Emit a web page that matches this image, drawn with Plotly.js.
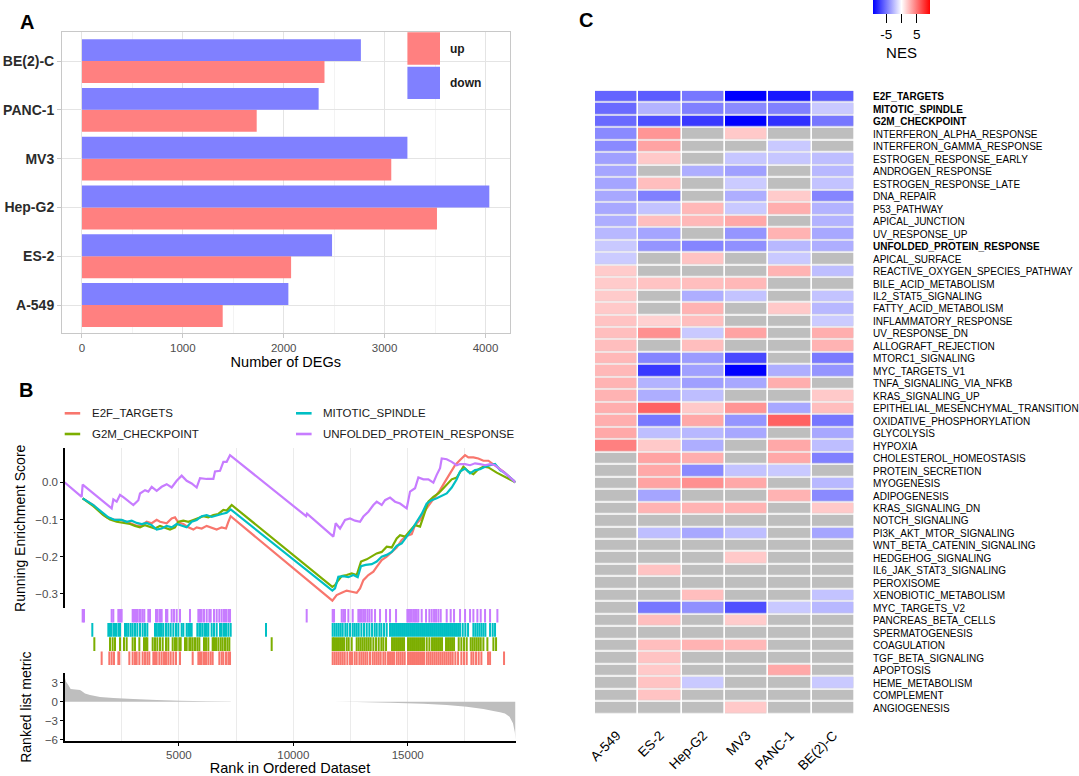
<!DOCTYPE html>
<html><head><meta charset="utf-8">
<script src="https://cdn.plot.ly/plotly-3.0.1.min.js"></script>
<style>html,body{margin:0;padding:0;background:#fff;} #chart{width:1079px;height:776px;}</style>
</head><body><div id="chart"></div>
<script>
// ---------- Panel A data ----------
const cellLines = ['A-549','ES-2','Hep-G2','MV3','PANC-1','BE(2)-C'];
const degUp   = [1395, 2073, 3519, 3066, 1732, 2404];
const degDown = [2046, 2479, 4038, 3226, 2346, 2765];

// ---------- Panel B data ----------
const geneSets = ['E2F_TARGETS','G2M_CHECKPOINT','MITOTIC_SPINDLE','UNFOLDED_PROTEIN_RESPONSE'];
const setColors = ['#F8766D','#7CAE00','#00BFC4','#C77CFF'];
const rankTicks = [5000, 10000, 15000];
const rankTickText = ['5000', '10000', '15000'];

const e2fRank = [794,1260,1552,1844,2135,2426,2717,2936,3154,3373,3591,3810,4029,4174,4466,4684,4830,4976,5194,5413,5631,5777,5996,6214,6433,6651,6870,7059,7161,7263,11707,11896,12115,12334,12552,12771,12917,13062,13281,13499,13645,13864,14082,14301,14519,14738,14956,15175,15320,15539,15757,15976,16194,16413,16632,16850,17069,17287,17506,17651,17870,18088,18307,18526,18744,18963,19181,19711];
const e2fES = [-0.043,-0.061,-0.079,-0.094,-0.100,-0.101,-0.106,-0.112,-0.117,-0.115,-0.106,-0.110,-0.101,-0.106,-0.110,-0.097,-0.094,-0.108,-0.112,-0.121,-0.127,-0.121,-0.124,-0.117,-0.121,-0.127,-0.121,-0.124,-0.106,-0.091,-0.318,-0.303,-0.297,-0.291,-0.294,-0.297,-0.285,-0.263,-0.249,-0.240,-0.227,-0.209,-0.200,-0.187,-0.175,-0.155,-0.144,-0.139,-0.115,-0.101,-0.076,-0.057,-0.039,-0.021,0.002,0.024,0.046,0.060,0.073,0.067,0.067,0.064,0.058,0.058,0.049,0.040,0.029,0.000];

const g2mRank = [794,1260,1698,1990,2280,2572,2863,3082,3300,3519,3737,3956,4174,4393,4611,4830,4976,5194,5413,5631,5850,6068,6287,6506,6724,6943,7088,7234,7307,11707,11824,11969,12115,12334,12552,12771,12960,13208,13427,13645,13864,14082,14301,14519,14665,14883,15102,15320,15539,15757,15903,16122,16340,16559,16777,16923,17142,17287,17433,17651,17870,18088,18307,18526,18744,18890,19711];
const g2mES = [-0.043,-0.064,-0.088,-0.100,-0.106,-0.109,-0.112,-0.117,-0.121,-0.115,-0.119,-0.124,-0.117,-0.121,-0.127,-0.121,-0.106,-0.103,-0.106,-0.101,-0.097,-0.091,-0.094,-0.088,-0.085,-0.074,-0.076,-0.064,-0.061,-0.281,-0.276,-0.263,-0.252,-0.249,-0.245,-0.249,-0.213,-0.207,-0.200,-0.191,-0.187,-0.173,-0.175,-0.151,-0.142,-0.146,-0.130,-0.115,-0.119,-0.079,-0.052,-0.039,-0.030,-0.016,-0.001,0.008,0.013,0.029,0.042,0.029,0.022,0.035,0.042,0.040,0.031,0.026,0.000];

const mitRank = [794,1260,1552,1917,2207,2499,2717,2936,3154,3373,3591,3810,4029,4247,4466,4684,4903,5121,5340,5558,5777,5996,6214,6433,6651,6870,7088,7263,11707,11824,11969,12188,12407,12625,12815,12960,13164,13427,13645,13864,14082,14301,14519,14738,14956,15175,15393,15612,15830,16049,16267,16486,16704,16923,17142,17287,17506,17724,17943,18161,18380,18599,18817,19036,19225,19711];
const mitES = [-0.043,-0.061,-0.076,-0.094,-0.101,-0.101,-0.106,-0.103,-0.109,-0.112,-0.109,-0.115,-0.127,-0.124,-0.117,-0.121,-0.112,-0.117,-0.121,-0.106,-0.101,-0.091,-0.088,-0.093,-0.088,-0.085,-0.082,-0.073,-0.291,-0.285,-0.254,-0.252,-0.255,-0.249,-0.255,-0.225,-0.222,-0.220,-0.213,-0.200,-0.195,-0.187,-0.171,-0.164,-0.146,-0.128,-0.106,-0.085,-0.057,-0.048,-0.043,-0.037,-0.030,-0.014,0.008,0.029,0.037,0.024,0.033,0.035,0.042,0.046,0.049,0.033,0.026,0.000];

const uprRank = [0,750,794,2062,2135,2280,2426,2572,3009,3227,3300,3519,3664,3810,4029,4247,4466,4684,4903,5121,5340,5558,5777,5923,6214,6506,6578,6797,6943,7088,7234,10560,10600,11751,11853,12042,12261,12479,12698,12917,13062,13281,13499,13645,13864,14009,14228,14446,14665,14956,15102,15320,15466,15684,15903,16122,16267,16413,16486,16704,16923,17142,17287,17506,17724,17943,18161,18380,18599,18817,19036,19225,19711];
const uprES = [0,-0.039,-0.006,-0.070,-0.046,-0.052,-0.034,-0.040,-0.061,-0.048,-0.030,-0.021,-0.025,-0.012,-0.023,-0.012,-0.005,-0.014,0.004,0.018,0.004,-0.003,-0.014,0.011,0.009,0.009,0.029,0.031,0.055,0.055,0.073,-0.091,-0.084,-0.146,-0.110,-0.124,-0.101,-0.097,-0.103,-0.106,-0.092,-0.079,-0.061,-0.052,-0.061,-0.048,-0.041,-0.052,-0.057,-0.070,-0.025,-0.016,0.013,0.008,0.008,-0.001,0.020,0.038,0.064,0.062,0.055,0.046,0.049,0.049,0.046,0.051,0.049,0.046,0.049,0.046,0.035,0.026,0.000];

// gene-set hit positions (rank)
const e2fHits = [1624,1959,2061,2163,2353,2396,2834,2979,3081,3154,3271,3416,3518,3620,3708,3883,3955,4028,4145,4247,4349,4436,4538,4640,4757,4873,5048,5602,5850,5922,5995,6097,6185,6287,6389,6476,6767,6870,6942,7059,7161,7234,
 11721,11809,11896,11984,12071,12158,12246,12362,12479,12566,12683,12770,12887,12975,13062,13150,13237,13353,13470,13557,13645,13732,13819,13936,14023,14140,14227,14315,14402,14519,14606,14694,14781,14868,15014,15102,15189,15276,15364,15451,15539,15626,15713,15830,15917,16005,16092,16180,16267,16355,16442,16529,16617,16704,16792,16879,16966,17083,17200,17345,17462,17579,17783,17870,17987,18103,18220,18511,18599,19210];
const g2mHits = [1304,1989,2105,2207,2426,2600,2717,2979,3081,3271,3475,3562,3620,3854,3955,4057,4174,4291,4436,4538,4728,4830,4903,5019,5077,5267,5340,5456,5514,5602,5704,5806,5893,6097,6185,6287,6476,6534,6622,6724,6826,6913,7015,7117,7205,9055,
 11721,11780,11867,11954,12042,12129,12217,12333,12421,12552,12770,12858,12945,13033,13120,13208,13295,13382,13499,13615,13732,13849,13936,14053,14315,14402,14490,14577,14664,14752,14839,15014,15102,15189,15276,15364,15451,15539,15626,15713,15830,15947,16063,16151,16238,16326,16413,16500,16675,16762,16850,16937,17025,17229,17345,17462,17579,17753,17841,17928,18016,18103,18191,18307,18482,18745,18861];
const mitHits = [1216,1916,1989,2061,2163,2251,2353,2426,2644,2717,2790,2892,2979,3081,3183,3300,3416,3518,3620,3955,4028,4101,4174,4247,4320,4436,4538,4640,4757,4873,4975,5121,5194,5340,5412,5485,5558,5806,5893,5952,6039,6141,6214,6287,6432,6534,6651,6797,6870,6971,7059,7161,7263,8807,
 11721,11809,11896,11984,12071,12158,12275,12362,12479,12596,12683,12770,12858,12975,13091,13208,13324,13441,13557,13645,13761,13849,13965,14082,14227,14315,14402,14490,14577,14664,14752,14839,14927,15014,15102,15189,15276,15364,15451,15539,15626,15713,15801,15888,15976,16063,16151,16238,16326,16413,16500,16588,16675,16762,16850,16937,17025,17112,17200,17287,17404,17520,17637,17870,17957,18045,18132,18220,18307,18395,18599,18715,18817];
const uprHits = [794,852,2061,2134,2353,2426,2498,2979,3038,3125,3183,3271,3329,3416,3489,3664,3737,3999,4072,4174,4247,4436,4495,4684,4786,4903,5048,5485,5850,5922,5995,6097,6214,6330,6389,6534,6651,6767,6870,6971,7059,7161,7234,10585,
 11721,11780,12115,12188,12260,12406,12596,12843,12916,12989,13062,13135,13237,13324,13426,13572,13790,14053,14227,14490,14985,15043,15102,15174,15247,15320,15393,15466,15611,15801,15947,16049,16151,16238,16340,16442,16704,16879,17025,17287,17506,17724,17870,18045,18191,18380,18599,18919];

// ranked list metric
const metricRank = [0,66,167,269,677,750,896,1115,1552,2135,3009,4029,5048,6214,7234,7300,11700,11751,12771,14228,15685,16705,17579,18307,18744,19035,19250,19450,19600,19680,19711];
const metricVal  = [4.0,3.15,2.63,2.0,1.84,1.68,1.31,1.05,0.73,0.57,0.42,0.26,0.15,0.05,0.01,0,0,-0.01,-0.06,-0.16,-0.32,-0.53,-0.79,-1.16,-1.47,-1.68,-1.85,-2.4,-3.4,-4.8,-6.0];

// ---------- Panel C data ----------
const pathways = ['E2F_TARGETS','MITOTIC_SPINDLE','G2M_CHECKPOINT','INTERFERON_ALPHA_RESPONSE','INTERFERON_GAMMA_RESPONSE','ESTROGEN_RESPONSE_EARLY','ANDROGEN_RESPONSE','ESTROGEN_RESPONSE_LATE','DNA_REPAIR','P53_PATHWAY','APICAL_JUNCTION','UV_RESPONSE_UP','UNFOLDED_PROTEIN_RESPONSE','APICAL_SURFACE','REACTIVE_OXYGEN_SPECIES_PATHWAY','BILE_ACID_METABOLISM','IL2_STAT5_SIGNALING','FATTY_ACID_METABOLISM','INFLAMMATORY_RESPONSE','UV_RESPONSE_DN','ALLOGRAFT_REJECTION','MTORC1_SIGNALING','MYC_TARGETS_V1','TNFA_SIGNALING_VIA_NFKB','KRAS_SIGNALING_UP','EPITHELIAL_MESENCHYMAL_TRANSITION','OXIDATIVE_PHOSPHORYLATION','GLYCOLYSIS','HYPOXIA','CHOLESTEROL_HOMEOSTASIS','PROTEIN_SECRETION','MYOGENESIS','ADIPOGENESIS','KRAS_SIGNALING_DN','NOTCH_SIGNALING','PI3K_AKT_MTOR_SIGNALING','WNT_BETA_CATENIN_SIGNALING','HEDGEHOG_SIGNALING','IL6_JAK_STAT3_SIGNALING','PEROXISOME','XENOBIOTIC_METABOLISM','MYC_TARGETS_V2','PANCREAS_BETA_CELLS','SPERMATOGENESIS','COAGULATION','TGF_BETA_SIGNALING','APOPTOSIS','HEME_METABOLISM','COMPLEMENT','ANGIOGENESIS'];
const boldPathways = ['E2F_TARGETS','MITOTIC_SPINDLE','G2M_CHECKPOINT','UNFOLDED_PROTEIN_RESPONSE'];
const N = null;
const nesA549 = [-5.7,-5.5,-5.5,-4.3,-4.3,-3.5,-3.3,-3.3,-3.2,-3.2,-3,-2.6,-2,-1.9,1.9,1.9,1.9,2,2.2,2.4,2.4,2.6,2.6,2.8,2.8,3,3,3.2,4.7,N,N,N,N,N,N,N,N,N,N,N,N,N,N,N,N,N,N,N,N,N];
const nesES2  = [-6,-2.8,-6.5,3.9,3.4,2.0,N,2.4,-4.7,-2.2,2.4,-3.3,-3.9,N,N,2.2,N,N,1.7,4.1,N,-4.5,-7.3,-2.8,-3,5.8,-5,-2.4,2,3.4,3.2,3.4,-3.3,2.8,N,-2.4,N,N,2.2,N,N,-5,2.4,N,2.4,2.2,2,2.2,2.2,N];
const nesHepG2= [-5,-4.7,-7.3,N,N,N,-3,N,N,2.6,2.6,N,-4.5,2.2,N,2.4,-3,2.8,2.4,-2,2.4,-3.7,-3.5,-3.5,-2.4,2,3.2,-2.6,-3,3,-4.3,4.1,N,2.8,N,-3.2,N,N,N,N,2.4,-4.1,N,N,2.8,N,N,-2,N,N];
const nesMV3  = [-9.4,-4.3,-9.4,2,N,-2.1,-3.5,-1.9,-3,-2,3.2,-3.9,-4.1,N,N,2.6,-2.2,N,N,3.4,N,-6.7,-9.4,-3.2,N,3.9,-3.9,-3.2,N,N,-2.2,3.2,N,2.8,N,-2.4,N,2,N,N,N,-6.5,1.9,N,2.6,N,N,N,N,2];
const nesPANC1= [-8.5,-4.7,-7.6,N,-2,-2.1,N,N,1.9,3,N,2.8,-2.6,-2,2.8,N,N,2,N,N,N,N,-3,3,N,-3.2,5.8,N,3.2,3.2,-2,N,2.8,N,N,N,N,N,N,N,N,-2,N,N,N,N,3.2,N,N,N];
const nesBE2C = [-6,-2,-5,N,N,-2.4,-2.6,-2.2,-4.5,-2.8,-2.8,-3.2,-3,N,-2.4,N,-2.2,-2.6,-1.9,3,2.8,-4.9,-3.9,N,2,2.4,-5,-3.2,-2.4,-4.7,N,-2.6,-4.3,2,N,-3.3,N,N,N,N,-2.2,-2.6,N,N,N,N,N,-2,N,N];
const nesTicks = [-5, 0, 5];
const nesTickText = ['-5', '', '5'];

// ---------- build ----------
const W = 1079, H = 776;
const px = v => v / W, py = v => 1 - v / H;
const FONT = 'Liberation Sans, Arial, Helvetica, sans-serif';

const traces = [];
traces.push({type:'bar', orientation:'h', name:'up', y:cellLines, x:degUp, marker:{color:'#FF8080', line:{width:0}}, xaxis:'x', yaxis:'y', hoverinfo:'skip'});
traces.push({type:'bar', orientation:'h', name:'down', y:cellLines, x:degDown, marker:{color:'#8080FF', line:{width:0}}, xaxis:'x', yaxis:'y', hoverinfo:'skip'});

const curves = [[e2fRank,e2fES],[g2mRank,g2mES],[mitRank,mitES],[uprRank,uprES]];
curves.forEach((c,i)=>{
  traces.push({type:'scatter', mode:'lines', x:c[0], y:c[1], line:{color:setColors[i], width:2.2}, xaxis:'x2', yaxis:'y2', hoverinfo:'skip', name:geneSets[i]});
});
const hits = [e2fHits, g2mHits, mitHits, uprHits];
hits.forEach((h,i)=>{
  traces.push({type:'scatter', mode:'markers', x:h, y:h.map(()=>i), marker:{symbol:'line-ns', size:9.7, color:setColors[i], line:{color:setColors[i], width:2}}, xaxis:'x2', yaxis:'y3', hoverinfo:'skip'});
});
traces.push({type:'scatter', mode:'none', fill:'tozeroy', fillcolor:'#BEBEBE', x:metricRank, y:metricVal, xaxis:'x2', yaxis:'y4', hoverinfo:'skip'});

const nesCols = [nesA549,nesES2,nesHepG2,nesMV3,nesPANC1,nesBE2C];
traces.push({type:'heatmap', x:cellLines, y:pathways, z:pathways.map(()=>cellLines.map(()=>1)), colorscale:[[0,'#BEBEBE'],[1,'#BEBEBE']], showscale:false, xgap:1.7, ygap:1.7, xaxis:'x3', yaxis:'y5', hoverinfo:'skip'});
traces.push({type:'heatmap', x:cellLines, y:pathways, z:pathways.map((p,r)=>nesCols.map(col=>col[r])), zmin:-9.4, zmax:9.4,
  colorscale:[[0,'#0000FF'],[0.5,'#FFFFFF'],[1,'#FF0000']], xgap:1.7, ygap:1.7, xaxis:'x3', yaxis:'y5', hoverinfo:'skip',
  colorbar:{orientation:'h', x:px(901.5), xanchor:'center', y:1, yanchor:'top', thickness:14, thicknessmode:'pixels', len:57, lenmode:'pixels',
    outlinewidth:0, xpad:0, ypad:0, tickmode:'array', tickvals:nesTicks, ticktext:nesTickText, ticks:'outside', ticklen:9, tickwidth:1, tickcolor:'#000',
    tickfont:{size:13.5, color:'#000', family:FONT}, title:{text:'NES', side:'bottom', font:{size:15, color:'#000', family:FONT}}}});

const gridB = '#EBEBEB';
const layout = {
  width:W, height:H, margin:{l:0,r:0,t:0,b:0}, paper_bgcolor:'#fff', plot_bgcolor:'#fff', showlegend:false,
  font:{family:FONT, color:'#1a1a1a'},
  barmode:'group', bargap:0.1, bargroupgap:0,
  xaxis:{domain:[px(62),px(509.6)], anchor:'y', range:[-198,4239], tickmode:'linear', tick0:0, dtick:1000,
    showgrid:true, gridcolor:'#E4E4E4', gridwidth:1, minor:{dtick:500, tick0:0, showgrid:true, gridcolor:'#EEEEEE', gridwidth:0.7},
    showline:true, mirror:true, linecolor:'#C8C8C8', linewidth:1, ticks:'outside', ticklen:4, tickcolor:'#C8C8C8',
    tickfont:{size:11.5, color:'#4D4D4D'}, zeroline:false, title:{text:'Number of DEGs', font:{size:14.5, color:'#000'}, standoff:3}},
  yaxis:{domain:[py(333.3),py(32.3)], anchor:'x', type:'category', categoryorder:'array', categoryarray:cellLines, range:[-0.58,5.59],
    showgrid:true, gridcolor:'#E4E4E4', showline:true, mirror:true, linecolor:'#C8C8C8', linewidth:1, ticks:'outside', ticklen:4, tickcolor:'#C8C8C8',
    tickfont:{size:14, color:'#2b2b2b', weight:'bold'}, zeroline:false},
  xaxis2:{domain:[px(64.5),px(515.5)], anchor:'y4', range:[0,19711], tickmode:'array', tickvals:rankTicks, ticktext:rankTickText,
    showgrid:true, gridcolor:gridB, gridwidth:1, minor:{dtick:2500, tick0:0, showgrid:true, gridcolor:gridB, gridwidth:1},
    showline:true, linecolor:'#000', linewidth:1.2, ticks:'outside', ticklen:3, tickcolor:'#000',
    tickfont:{size:11.5, color:'#4D4D4D'}, zeroline:false, title:{text:'Rank in Ordered Dataset', font:{size:14.5, color:'#000'}, standoff:2}},
  yaxis2:{domain:[py(608.3),py(448.3)], anchor:'x2', range:[-0.3385,0.0914], tickmode:'array', tickvals:[-0.3,-0.2,-0.1,0], tickformat:'.1f',
    showline:true, linecolor:'#000', linewidth:1.2, ticks:'outside', ticklen:3, tickcolor:'#000', showgrid:false, zeroline:false,
    tickfont:{size:11.5, color:'#4D4D4D'}, title:{text:'Running Enrichment Score', font:{size:14, color:'#000'}, standoff:6}},
  yaxis3:{domain:[py(673),py(608.3)], anchor:'x2', range:[-1.035,3.52], showline:false, showticklabels:false, ticks:'', showgrid:false, zeroline:false},
  yaxis4:{domain:[py(741.3),py(673)], anchor:'x2', range:[-6.26,4.53], tickmode:'array', tickvals:[-6,-3,0,3],
    showline:true, linecolor:'#000', linewidth:1.2, ticks:'outside', ticklen:3, tickcolor:'#000', showgrid:false, zeroline:false,
    tickfont:{size:11.5, color:'#4D4D4D'}, title:{text:'Ranked list metric', font:{size:14, color:'#000'}, standoff:10}},
  xaxis3:{domain:[px(595),px(855)], anchor:'y5', type:'category', categoryorder:'array', categoryarray:cellLines, range:[-0.5,5.5],
    tickangle:-45, ticks:'outside', ticklen:7, tickcolor:'rgba(0,0,0,0)', showgrid:false, showline:false, zeroline:false,
    tickfont:{size:13.5, color:'#000'}},
  yaxis5:{domain:[py(714.3),py(90.7)], anchor:'x3', type:'category', side:'right', range:[49.5,-0.5], tickmode:'array', tickvals:pathways,
    ticktext:pathways.map(p=>boldPathways.includes(p)?'<b>'+p+'</b>':p), ticks:'outside', ticklen:15, tickcolor:'rgba(0,0,0,0)',
    showgrid:false, showline:false, zeroline:false, tickfont:{size:10, color:'#000'}},
  shapes:[
    {type:'rect', xref:'paper', yref:'paper', x0:px(407.4), x1:px(440), y0:py(64.7), y1:py(32.3), fillcolor:'#FF8080', line:{width:0}},
    {type:'rect', xref:'paper', yref:'paper', x0:px(407.4), x1:px(440), y0:py(99), y1:py(66.7), fillcolor:'#8080FF', line:{width:0}},
    {type:'line', xref:'paper', yref:'paper', x0:px(64.7), x1:px(80.2), y0:py(413.3), y1:py(413.3), line:{color:setColors[0], width:2.6}},
    {type:'line', xref:'paper', yref:'paper', x0:px(64.7), x1:px(80.2), y0:py(434), y1:py(434), line:{color:setColors[1], width:2.6}},
    {type:'line', xref:'paper', yref:'paper', x0:px(296), x1:px(311.6), y0:py(413.3), y1:py(413.3), line:{color:setColors[2], width:2.6}},
    {type:'line', xref:'paper', yref:'paper', x0:px(296), x1:px(311.6), y0:py(434), y1:py(434), line:{color:setColors[3], width:2.6}}
  ],
  annotations:[
    {text:'<b>A</b>', xref:'paper', yref:'paper', x:px(27), y:py(22), xanchor:'center', yanchor:'middle', showarrow:false, font:{size:20, color:'#000'}},
    {text:'<b>B</b>', xref:'paper', yref:'paper', x:px(26), y:py(390), xanchor:'center', yanchor:'middle', showarrow:false, font:{size:20, color:'#000'}},
    {text:'<b>C</b>', xref:'paper', yref:'paper', x:px(586), y:py(20), xanchor:'center', yanchor:'middle', showarrow:false, font:{size:20, color:'#000'}},
    {text:'<b>up</b>', xref:'paper', yref:'paper', x:px(447.7), y:py(49.3), xanchor:'left', yanchor:'middle', showarrow:false, font:{size:12, color:'#1a1a1a'}},
    {text:'<b>down</b>', xref:'paper', yref:'paper', x:px(447.7), y:py(82.7), xanchor:'left', yanchor:'middle', showarrow:false, font:{size:12, color:'#1a1a1a'}},
    {text:geneSets[0], xref:'paper', yref:'paper', x:px(89.5), y:py(413.3), xanchor:'left', yanchor:'middle', showarrow:false, font:{size:11.5, color:'#1a1a1a'}},
    {text:geneSets[1], xref:'paper', yref:'paper', x:px(89.5), y:py(434), xanchor:'left', yanchor:'middle', showarrow:false, font:{size:11.5, color:'#1a1a1a'}},
    {text:geneSets[2], xref:'paper', yref:'paper', x:px(321), y:py(413.3), xanchor:'left', yanchor:'middle', showarrow:false, font:{size:11.5, color:'#1a1a1a'}},
    {text:geneSets[3], xref:'paper', yref:'paper', x:px(321), y:py(434), xanchor:'left', yanchor:'middle', showarrow:false, font:{size:11.5, color:'#1a1a1a'}}
  ]
};
Plotly.newPlot('chart', traces, layout, {staticPlot:true, displayModeBar:false});
</script>
</body></html>
